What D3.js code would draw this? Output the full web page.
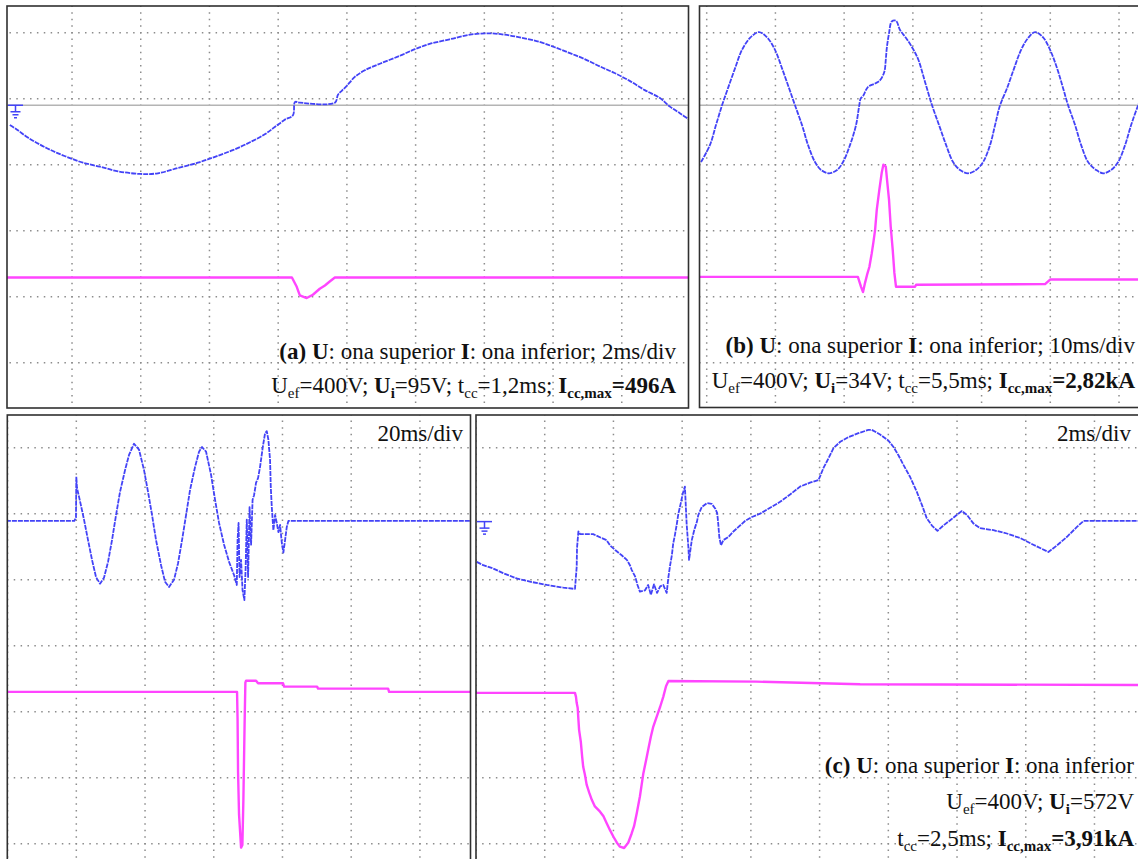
<!DOCTYPE html>
<html>
<head>
<meta charset="utf-8">
<script src="https://cdn.jsdelivr.net/npm/d3@7"></script>
<style>
  html, body { margin: 0; padding: 0; background: #fff; }
  svg { display: block; font-family: "Liberation Serif", "Times New Roman", serif; }
  text { white-space: pre; }
</style>
</head>
<body>
<svg id="chart" width="1138" height="859"></svg>
<script>
// Oscillograms: time in ms, trace values in screen divisions measured from each channel's ground.

// (a) 2 ms/div
const aVoltage = [[0.19,-0.30],[0.40,-0.37],[0.69,-0.48],[0.98,-0.57],[1.27,-0.65],[1.56,-0.72],[1.94,-0.80],[2.32,-0.87],[2.81,-0.93],[3.34,-1.00],[3.98,-1.04],[4.50,-1.03],[5.08,-0.95],[5.66,-0.87],[6.16,-0.78],[6.68,-0.68],[7.18,-0.56],[7.61,-0.44],[7.90,-0.33],[8.19,-0.22],[8.43,-0.15],[8.49,0.05],[8.63,0.04],[9.65,0.04],[9.74,0.16],[9.85,0.22],[9.99,0.29],[10.23,0.43],[10.52,0.53],[10.96,0.63],[11.54,0.75],[11.98,0.85],[12.41,0.93],[12.99,1.00],[13.58,1.07],[14.16,1.09],[14.59,1.07],[15.03,1.03],[15.61,0.96],[16.05,0.88],[16.49,0.79],[16.92,0.70],[17.36,0.59],[17.79,0.49],[18.23,0.37],[18.67,0.23],[19.11,0.11],[19.40,-0.02],[19.69,-0.12],[19.97,-0.22]];
const aCurrent = [[0.1,0],[8.40,0],[8.54,-0.14],[8.63,-0.27],[8.83,-0.31],[9.01,-0.26],[9.21,-0.17],[9.36,-0.12],[9.50,-0.06],[9.65,0],[20.2,0]];

// (b) 10 ms/div
const bVoltage = [[-0.83,-0.86],[0.48,-0.60],[1.35,-0.30],[2.23,0.00],[3.10,0.26],[4.12,0.56],[5.14,0.84],[6.30,1.02],[7.61,1.11],[8.78,1.03],[9.94,0.84],[10.96,0.56],[11.98,0.26],[12.85,0.00],[13.87,-0.30],[14.74,-0.60],[15.76,-0.86],[16.64,-0.98],[17.80,-1.03],[18.97,-0.98],[19.84,-0.86],[20.86,-0.60],[21.73,-0.30],[22.20,0.00],[22.40,0.10],[22.75,0.14],[23.48,0.28],[24.50,0.33],[25.23,0.38],[25.85,0.51],[26.06,0.69],[26.20,0.86],[26.53,1.09],[26.93,1.27],[27.55,1.28],[28.13,1.14],[29.01,1.02],[29.99,0.86],[30.80,0.69],[31.78,0.35],[32.79,0.00],[33.81,-0.30],[34.83,-0.60],[35.85,-0.86],[36.87,-0.98],[38.03,-1.03],[39.20,-0.98],[40.22,-0.86],[41.24,-0.60],[41.96,-0.30],[42.69,0.00],[43.71,0.26],[44.73,0.56],[45.75,0.84],[46.77,1.02],[47.79,1.11],[48.95,1.03],[49.97,0.84],[50.99,0.56],[51.86,0.26],[52.59,0.00],[53.61,-0.30],[54.48,-0.60],[55.50,-0.86],[56.67,-0.98],[57.69,-1.03],[58.85,-0.98],[59.87,-0.86],[60.89,-0.60],[61.76,-0.30],[62.78,0.00],[63.50,0.18]];
const bCurrent = [[-1,0],[22.0,0],[22.46,-0.15],[22.75,-0.23],[23.04,-0.09],[23.33,0.03],[23.67,0.15],[24.02,0.36],[24.25,0.52],[24.50,0.71],[24.75,1.02],[25.12,1.32],[25.47,1.58],[25.71,1.70],[26.06,1.67],[26.29,1.42],[26.53,1.17],[26.78,0.76],[27.07,0.41],[27.31,0.06],[27.55,-0.15],[30.32,-0.15],[30.47,-0.12],[49.24,-0.11],[49.97,-0.04],[63.5,-0.04]];

// (c) 20 ms/div
const cSlowVoltage = [[-0.5,0],[19.40,0],[19.90,0.05],[20.00,0.67],[20.20,0.50],[21.08,0.30],[22.24,0.02],[23.41,-0.29],[24.57,-0.59],[25.73,-0.85],[26.90,-0.95],[28.06,-0.86],[29.23,-0.62],[30.39,-0.29],[31.56,0.09],[32.72,0.44],[34.18,0.77],[35.34,1.00],[36.80,1.17],[38.25,1.08],[39.71,0.77],[40.87,0.44],[42.04,0.09],[43.20,-0.29],[44.66,-0.67],[45.82,-0.92],[46.99,-1.00],[48.44,-0.89],[49.61,-0.64],[50.77,-0.29],[51.94,0.09],[53.10,0.47],[54.56,0.82],[55.72,1.05],[56.59,1.12],[57.76,1.05],[59.21,0.70],[60.38,0.32],[61.54,-0.03],[63.00,-0.36],[64.45,-0.62],[65.91,-0.82],[66.70,-0.97],[66.93,-0.29],[67.22,-0.03],[67.51,-0.85],[67.95,-0.59],[68.38,-1.05],[68.91,-1.20],[69.26,-0.74],[69.61,0.02],[69.99,-0.85],[70.42,0.21],[70.86,-0.36],[71.30,0.32],[71.73,0.39],[72.31,0.58],[72.89,0.65],[73.48,0.82],[74.27,1.12],[74.93,1.33],[75.43,1.36],[75.90,1.23],[76.39,0.92],[76.59,0.52],[76.89,0.21],[77.35,-0.14],[77.85,0.09],[78.34,-0.03],[78.81,-0.17],[79.30,-0.06],[79.80,-0.33],[80.26,-0.48],[80.76,-0.29],[81.25,-0.09],[81.72,0],[135,0]];
const cSlowCurrent = [[-0.5,0],[66.78,0],[66.93,-0.42],[67.07,-1.21],[67.36,-1.86],[67.95,-2.36],[68.33,-2.32],[68.62,-1.64],[68.97,-0.50],[69.20,0.14],[69.40,0.17],[72.31,0.17],[72.89,0.13],[80.17,0.13],[80.47,0.08],[90.07,0.08],[90.36,0.05],[110.74,0.05],[111.03,0],[135,0]];

// (c) 2 ms/div
const cFastVoltage = [[0.02,-0.61],[0.21,-0.66],[0.50,-0.71],[0.79,-0.78],[1.18,-0.86],[1.57,-0.91],[2.06,-0.96],[2.54,-1.00],[2.88,-1.02],[2.93,-0.69],[2.94,-0.40],[2.98,-0.15],[3.03,-0.19],[3.41,-0.19],[3.66,-0.25],[3.80,-0.28],[3.90,-0.36],[4.05,-0.43],[4.24,-0.51],[4.39,-0.58],[4.48,-0.66],[4.53,-0.73],[4.63,-0.83],[4.70,-0.96],[4.77,-1.06],[4.92,-1.04],[5.01,-0.96],[5.09,-1.11],[5.18,-0.95],[5.27,-1.08],[5.36,-0.98],[5.45,-0.96],[5.55,-1.08],[5.60,-0.84],[5.65,-0.66],[5.70,-0.51],[5.74,-0.33],[5.79,-0.20],[5.84,-0.05],[5.89,0.12],[5.96,0.28],[6.02,0.43],[6.08,0.53],[6.13,-0.03],[6.18,-0.38],[6.20,-0.58],[6.28,-0.28],[6.35,-0.13],[6.43,0.00],[6.47,0.10],[6.57,0.22],[6.72,0.28],[6.86,0.27],[6.96,0.20],[7.02,0.13],[7.05,-0.03],[7.08,-0.23],[7.13,-0.36],[7.20,-0.28],[7.35,-0.23],[7.49,-0.15],[7.64,-0.08],[7.83,0.01],[8.03,0.07],[8.27,0.12],[8.56,0.21],[8.85,0.30],[9.14,0.41],[9.43,0.53],[9.72,0.59],[9.97,0.63],[10.11,0.81],[10.26,0.96],[10.40,1.11],[10.60,1.21],[10.84,1.28],[11.13,1.34],[11.42,1.39],[11.52,1.39],[11.76,1.32],[12.00,1.23],[12.15,1.13],[12.29,1.01],[12.44,0.86],[12.63,0.68],[12.83,0.45],[12.98,0.25],[13.12,0.05],[13.27,-0.06],[13.43,-0.14],[13.60,-0.06],[13.80,0.02],[13.99,0.10],[14.14,0.16],[14.29,0.10],[14.48,-0.03],[14.67,-0.10],[15.06,-0.13],[15.45,-0.18],[15.84,-0.25],[16.22,-0.35],[16.66,-0.46],[16.91,-0.36],[17.20,-0.23],[17.49,-0.08],[17.68,0.01],[19.40,0.01]];
const cFastCurrent = [[-0.1,0],[2.88,0],[2.91,-0.06],[2.93,-0.15],[2.96,-0.23],[2.98,-0.40],[3.00,-0.56],[3.05,-0.74],[3.09,-0.97],[3.12,-1.12],[3.17,-1.24],[3.22,-1.39],[3.30,-1.52],[3.37,-1.62],[3.46,-1.72],[3.61,-1.80],[3.71,-1.87],[3.80,-1.97],[3.90,-2.08],[4.00,-2.18],[4.10,-2.27],[4.19,-2.33],[4.31,-2.35],[4.43,-2.27],[4.53,-2.13],[4.60,-2.02],[4.68,-1.82],[4.77,-1.57],[4.87,-1.22],[4.95,-1.02],[5.02,-0.84],[5.09,-0.66],[5.16,-0.51],[5.26,-0.36],[5.36,-0.21],[5.45,-0.06],[5.53,0.10],[5.60,0.18],[8.15,0.17],[11.18,0.13],[19.4,0.12]];

// Caption runs: [text, style] where style letters: b = bold, s = subscript
const captionA1 = [["(a) ","b"],["U","b"],[": ona superior ",""],["I","b"],[": ona inferior; 2ms/div",""]];
const captionA2 = [["U",""],["ef","s"],["=400V; ",""],["U","b"],["i","bs"],["=95V; t",""],["cc","s"],["=1,2ms; ",""],["I","b"],["cc,max","bs"],["=496A","b"]];
const captionB1 = [["(b) ","b"],["U","b"],[": ona superior ",""],["I","b"],[": ona inferior; 10ms/div",""]];
const captionB2 = [["U",""],["ef","s"],["=400V; ",""],["U","b"],["i","bs"],["=34V; t",""],["cc","s"],["=5,5ms; ",""],["I","b"],["cc,max","bs"],["=2,82kA","b"]];
const captionC1 = [["(c) ","b"],["U","b"],[": ona superior ",""],["I","b"],[": ona inferior",""]];
const captionC2 = [["U",""],["ef","s"],["=400V; ",""],["U","b"],["i","bs"],["=572V",""]];
const captionC3 = [["t",""],["cc","s"],["=2,5ms; ",""],["I","b"],["cc,max","bs"],["=3,91kA","b"]];
const timebaseSlow = [["20ms/div",""]];
const timebaseFast = [["2ms/div",""]];

const svg = d3.select("#chart");
const DX = 68.72, DY = 66;
const BLUE = "#4343f7", PINK = "#ff45ff", GRID = "#8c8c8c";

const panels = [
  { id: "a", box: [7, 6, 688.5, 408], gx0: 3.3, gy0: 32.7, msDiv: 2, uGnd: -1.1, iGnd: -3.71,
    zeroLine: true, ground: true, u: aVoltage, i: aCurrent, smooth: true },
  { id: "b", box: [699.5, 6, 1142, 407.5], gx0: 706.7, gy0: 32.7, msDiv: 10, uGnd: -1.1, iGnd: -3.70,
    zeroLine: true, ground: false, u: bVoltage, i: bCurrent, smooth: true },
  { id: "c1", box: [7.3, 415, 470.5, 864], gx0: 7.6, gy0: 447.7, msDiv: 20, uGnd: -1.11, iGnd: -3.70,
    zeroLine: false, ground: false, u: cSlowVoltage, i: cSlowCurrent, smooth: false },
  { id: "c2", box: [476, 415, 1142, 864], gx0: 476, gy0: 447.7, msDiv: 2, uGnd: -1.12, iGnd: -3.715,
    zeroLine: false, ground: true, u: cFastVoltage, i: cFastCurrent, smooth: false }
];

const defs = svg.append("defs");

panels.forEach(p => {
  const [L, T, R, B] = p.box;
  const x = d3.scaleLinear().domain([0, p.msDiv]).range([p.gx0, p.gx0 + DX]);
  const y = d3.scaleLinear().domain([0, -1]).range([p.gy0, p.gy0 + DY]);

  defs.append("clipPath").attr("id", "clip-" + p.id)
    .append("rect").attr("x", L).attr("y", T).attr("width", R - L).attr("height", B - T);

  const g = svg.append("g").attr("clip-path", `url(#clip-${p.id})`);

  // dotted graticule, one dot every tenth of a division
  const kMin = Math.ceil((L - p.gx0) / DX), kMax = Math.floor((R - p.gx0) / DX);
  const jMin = Math.ceil((T - p.gy0) / DY), jMax = Math.floor((B - p.gy0) / DY);
  const vTop = y(-(jMin - 1)), vBot = y(-(jMax + 1));
  const hLeft = x((kMin - 1) * p.msDiv), hRight = x((kMax + 1) * p.msDiv);

  g.selectAll("line.v").data(d3.range(kMin, kMax + 1)).join("line")
    .attr("x1", k => x(k * p.msDiv)).attr("x2", k => x(k * p.msDiv))
    .attr("y1", vTop).attr("y2", vBot)
    .attr("stroke", GRID).attr("stroke-width", 1.5)
    .attr("stroke-dasharray", `1.5 ${DY / 10 - 1.5}`).attr("stroke-dashoffset", 0.75);

  g.selectAll("line.h").data(d3.range(jMin, jMax + 1)).join("line")
    .attr("y1", j => y(-j)).attr("y2", j => y(-j))
    .attr("x1", hLeft).attr("x2", hRight)
    .attr("stroke", GRID).attr("stroke-width", 1.5)
    .attr("stroke-dasharray", `1.5 ${DX / 10 - 1.5}`).attr("stroke-dashoffset", 0.75);

  if (p.zeroLine) {
    g.append("line").attr("x1", L).attr("x2", R)
      .attr("y1", y(p.uGnd)).attr("y2", y(p.uGnd))
      .attr("stroke", "#b4b4b4").attr("stroke-width", 1.4);
  }

  const currentLine = d3.line().x(d => x(d[0])).y(d => y(p.iGnd + d[1])).curve(d3.curveLinear);
  const voltageLine = d3.line().x(d => x(d[0])).y(d => y(p.uGnd + d[1]))
    .curve(p.smooth ? d3.curveCatmullRom.alpha(0.5) : d3.curveLinear);

  g.append("path").attr("d", currentLine(p.i))
    .attr("fill", "none").attr("stroke", PINK).attr("stroke-width", 2.4)
    .attr("stroke-linejoin", "round");

  g.append("path").attr("d", voltageLine(p.u))
    .attr("fill", "none").attr("stroke", BLUE).attr("stroke-width", 1.8)
    .attr("stroke-dasharray", "5 1").attr("stroke-linejoin", "round");

  // channel ground marker at the left edge
  if (p.ground) {
    const gy = y(p.uGnd), gx = L + 1;
    const mk = g.append("g").attr("stroke", BLUE).attr("stroke-width", 1.5).attr("fill", "none");
    mk.append("line").attr("x1", gx).attr("x2", gx + 15).attr("y1", gy).attr("y2", gy);
    mk.append("line").attr("x1", gx + 7.5).attr("x2", gx + 7.5).attr("y1", gy).attr("y2", gy + 6.5);
    mk.append("line").attr("x1", gx + 2.5).attr("x2", gx + 12.5).attr("y1", gy + 6.5).attr("y2", gy + 6.5);
    mk.append("line").attr("x1", gx + 4.5).attr("x2", gx + 10.5).attr("y1", gy + 9.5).attr("y2", gy + 9.5);
    mk.append("line").attr("x1", gx + 6).attr("x2", gx + 9).attr("y1", gy + 12.5).attr("y2", gy + 12.5);
  }

  svg.append("rect").attr("x", L).attr("y", T).attr("width", R - L).attr("height", B - T)
    .attr("fill", "none").attr("stroke", "#303030").attr("stroke-width", 1.6);
});

// captions
function caption(runs, xEnd, yBase) {
  const t = svg.append("text").attr("x", xEnd).attr("y", yBase)
    .attr("text-anchor", "end").attr("font-size", 23).attr("fill", "#111");
  let shift = 0;
  runs.forEach(([txt, st]) => {
    const sub = st.includes("s"), bold = st.includes("b");
    const target = sub ? 5 : 0;
    t.append("tspan")
      .attr("dy", target - shift)
      .attr("font-size", sub ? 15 : 23)
      .attr("font-weight", bold ? "bold" : "normal")
      .text(txt);
    shift = target;
  });
}

caption(captionA1, 676, 359);
caption(captionA2, 676, 393);
caption(captionB1, 1135, 353);
caption(captionB2, 1135, 388);
caption(timebaseSlow, 463, 441);
caption(timebaseFast, 1131, 441);
caption(captionC1, 1134, 773);
caption(captionC2, 1134, 809);
caption(captionC3, 1134, 846);
</script>
</body>
</html>
